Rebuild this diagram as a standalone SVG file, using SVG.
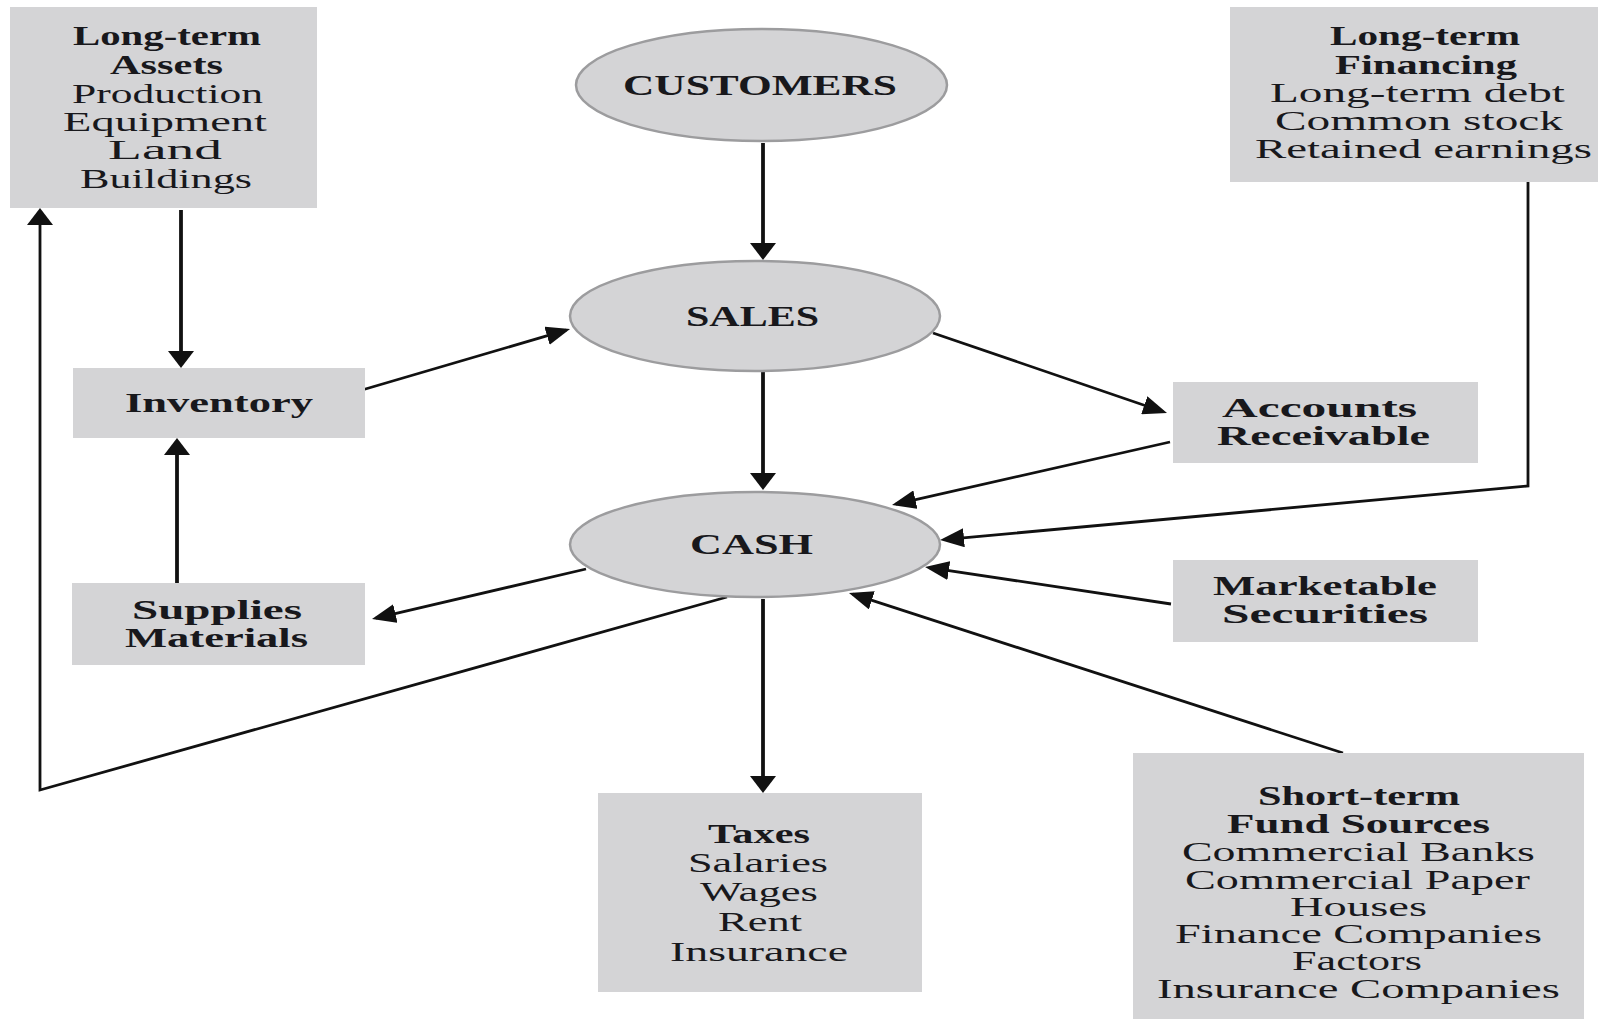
<svg xmlns="http://www.w3.org/2000/svg" width="1606" height="1019" viewBox="0 0 1606 1019">
  <style>
    .box { fill: #d4d4d6; }
    .oval { fill: #d4d4d6; stroke: #9c9c9e; stroke-width: 2.5; }
    text { font-family: "Liberation Serif", "Times New Roman", serif; fill: #18181c; text-anchor: middle; font-size: 28px; }
    .b { font-weight: bold; }
    .big { font-size: 30px; font-weight: bold; }
    .tight text { font-size: 26.5px; }
    .wire { fill: none; stroke: #111; stroke-width: 2.8; stroke-linejoin: miter; }
    .vert { stroke-width: 3.8; }
  </style>
  <defs>
    <marker id="headV" markerUnits="userSpaceOnUse" viewBox="0 0 17 26" markerWidth="17" markerHeight="26" refX="13" refY="13" orient="auto">
      <path d="M0,0 L17,13 L0,26 Z" fill="#111"/>
    </marker>
    <marker id="headS" markerUnits="userSpaceOnUse" viewBox="0 0 24 19" markerWidth="24" markerHeight="19" refX="20" refY="9.5" orient="auto">
      <path d="M0,0 L24,9.5 L0,19 Z" fill="#111"/>
    </marker>
  </defs>

  <!-- connectors -->
  <g id="connectors">
    <path class="wire vert" d="M763,143 L763,256" marker-end="url(#headV)"/>
    <path class="wire vert" d="M181,210 L181,364" marker-end="url(#headV)"/>
    <path class="wire vert" d="M177,583 L177,442" marker-end="url(#headV)"/>
    <path class="wire" d="M362,390 L566.2,330.1" marker-end="url(#headS)"/>
    <path class="wire" d="M933,333 L1163.2,411.7" marker-end="url(#headS)"/>
    <path class="wire vert" d="M763,372 L763,486" marker-end="url(#headV)"/>
    <path class="wire" d="M1170,442 L895.9,504.1" marker-end="url(#headS)"/>
    <path class="wire" d="M1528,182 L1528,486 L944,539.6" marker-end="url(#headS)"/>
    <path class="wire" d="M1171,604 L929,567.6" marker-end="url(#headS)"/>
    <path class="wire" d="M1343,753 L852.8,594.2" marker-end="url(#headS)"/>
    <path class="wire" d="M586,569 L375.9,618.1" marker-end="url(#headS)"/>
    <path class="wire" d="M727,597 L40,790 L40,212" marker-end="url(#headV)"/>
    <path class="wire vert" d="M763,599 L763,789" marker-end="url(#headV)"/>
  </g>

  <!-- long-term assets -->
  <g id="long-term-assets">
    <rect class="box" x="10" y="7" width="307" height="201"/>
    <text class="b" x="167" y="45" textLength="188" lengthAdjust="spacingAndGlyphs">Long-term</text>
    <text class="b" x="166.5" y="74" textLength="113" lengthAdjust="spacingAndGlyphs">Assets</text>
    <text x="167.5" y="103" textLength="191" lengthAdjust="spacingAndGlyphs">Production</text>
    <text x="165" y="131" textLength="204" lengthAdjust="spacingAndGlyphs">Equipment</text>
    <text x="165" y="159" textLength="114" lengthAdjust="spacingAndGlyphs">Land</text>
    <text x="166" y="188" textLength="172" lengthAdjust="spacingAndGlyphs">Buildings</text>
  </g>

  <!-- long-term financing -->
  <g id="long-term-financing">
    <rect class="box" x="1230" y="7" width="368" height="175"/>
    <text class="b" x="1425" y="45" textLength="190" lengthAdjust="spacingAndGlyphs">Long-term</text>
    <text class="b" x="1426" y="74" textLength="182" lengthAdjust="spacingAndGlyphs">Financing</text>
    <text x="1417.5" y="102" textLength="295" lengthAdjust="spacingAndGlyphs">Long-term debt</text>
    <text x="1419" y="130" textLength="288" lengthAdjust="spacingAndGlyphs">Common stock</text>
    <text x="1423.5" y="158" textLength="337" lengthAdjust="spacingAndGlyphs">Retained earnings</text>
  </g>

  <!-- customers -->
  <g id="customers">
    <ellipse class="oval" cx="761.5" cy="85" rx="185.5" ry="56"/>
    <text class="big" x="760" y="95" textLength="274" lengthAdjust="spacingAndGlyphs">CUSTOMERS</text>
  </g>

  <!-- sales -->
  <g id="sales">
    <ellipse class="oval" cx="755" cy="316" rx="185" ry="55"/>
    <text class="big" x="752.5" y="326" textLength="133" lengthAdjust="spacingAndGlyphs">SALES</text>
  </g>

  <!-- cash -->
  <g id="cash">
    <ellipse class="oval" cx="755" cy="544.5" rx="185" ry="52.5"/>
    <text class="big" x="751.5" y="554" textLength="123" lengthAdjust="spacingAndGlyphs">CASH</text>
  </g>

  <!-- inventory -->
  <g id="inventory">
    <rect class="box" x="73" y="368" width="292" height="70"/>
    <text class="b" x="219" y="412" textLength="188" lengthAdjust="spacingAndGlyphs">Inventory</text>
  </g>

  <!-- supplies and materials -->
  <g id="supplies">
    <rect class="box" x="72" y="583" width="293" height="82"/>
    <text class="b" x="217" y="619" textLength="170" lengthAdjust="spacingAndGlyphs">Supplies</text>
    <text class="b" x="216.5" y="647" textLength="183" lengthAdjust="spacingAndGlyphs">Materials</text>
  </g>

  <!-- accounts receivable -->
  <g id="accounts-receivable">
    <rect class="box" x="1173" y="382" width="305" height="81"/>
    <text class="b" x="1319.5" y="417" textLength="195" lengthAdjust="spacingAndGlyphs">Accounts</text>
    <text class="b" x="1323.5" y="445" textLength="213" lengthAdjust="spacingAndGlyphs">Receivable</text>
  </g>

  <!-- marketable securities -->
  <g id="marketable-securities">
    <rect class="box" x="1173" y="560" width="305" height="82"/>
    <text class="b" x="1325" y="595" textLength="224" lengthAdjust="spacingAndGlyphs">Marketable</text>
    <text class="b" x="1325" y="623" textLength="206" lengthAdjust="spacingAndGlyphs">Securities</text>
  </g>

  <!-- operating outflows -->
  <g id="expenses">
    <rect class="box" x="598" y="793" width="324" height="199"/>
    <text class="b" x="759" y="843" textLength="102" lengthAdjust="spacingAndGlyphs">Taxes</text>
    <text x="758" y="872" textLength="140" lengthAdjust="spacingAndGlyphs">Salaries</text>
    <text x="759" y="901" textLength="118" lengthAdjust="spacingAndGlyphs">Wages</text>
    <text x="760" y="931" textLength="84" lengthAdjust="spacingAndGlyphs">Rent</text>
    <text x="759" y="961" textLength="178" lengthAdjust="spacingAndGlyphs">Insurance</text>
  </g>

  <!-- short-term fund sources -->
  <g id="short-term-sources" class="tight">
    <rect class="box" x="1133" y="753" width="451" height="266"/>
    <text class="b" x="1359" y="805" textLength="202" lengthAdjust="spacingAndGlyphs">Short-term</text>
    <text class="b" x="1358.5" y="833" textLength="263" lengthAdjust="spacingAndGlyphs">Fund Sources</text>
    <text x="1358.5" y="861" textLength="353" lengthAdjust="spacingAndGlyphs">Commercial Banks</text>
    <text x="1357.5" y="889" textLength="345" lengthAdjust="spacingAndGlyphs">Commercial Paper</text>
    <text x="1358.5" y="916" textLength="137" lengthAdjust="spacingAndGlyphs">Houses</text>
    <text x="1358.5" y="943" textLength="367" lengthAdjust="spacingAndGlyphs">Finance Companies</text>
    <text x="1357" y="970" textLength="130" lengthAdjust="spacingAndGlyphs">Factors</text>
    <text x="1358.5" y="998" textLength="403" lengthAdjust="spacingAndGlyphs">Insurance Companies</text>
  </g>
</svg>
